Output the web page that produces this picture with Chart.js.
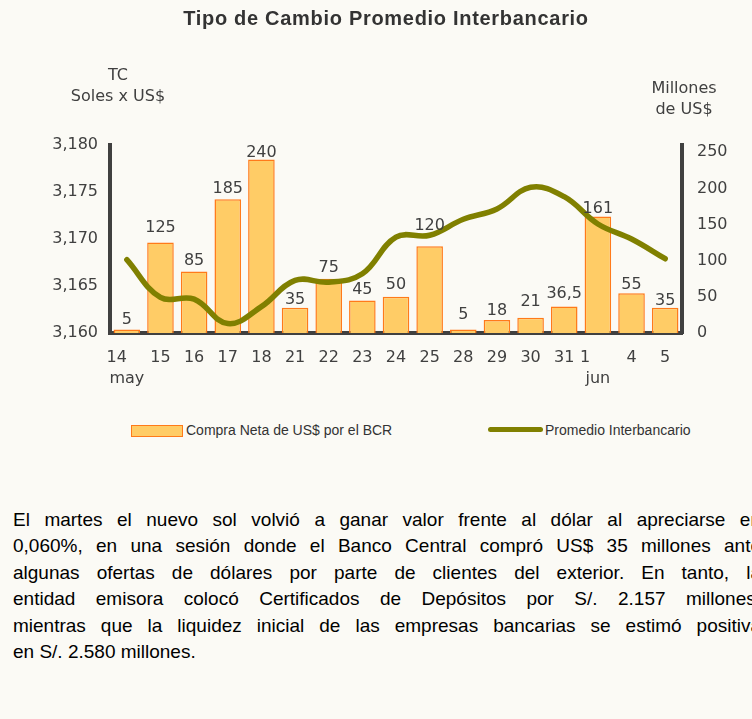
<!DOCTYPE html>
<html><head><meta charset="utf-8">
<script src="https://cdn.jsdelivr.net/npm/chart.js@4.4.1/dist/chart.umd.min.js"></script>
<style>
html,body{margin:0;padding:0;background:#fbfaf5;width:752px;height:719px;overflow:hidden;}
#wrap{position:relative;width:752px;height:719px;overflow:hidden;}
#title{position:absolute;left:0;width:772px;top:7px;text-align:center;font:bold 20px "Liberation Sans",Arial,sans-serif;letter-spacing:0.7px;color:#333;}
.axt{position:absolute;font:16px "DejaVu Sans",sans-serif;color:#404040;text-align:center;line-height:21px;}
#chartbox{position:absolute;left:0;top:0;width:752px;height:400px;}
.leg{position:absolute;font:14px "Liberation Sans",Arial,sans-serif;color:#333;white-space:nowrap;}
#p{position:absolute;left:13px;top:507px;width:748px;font:19px "Liberation Sans",Arial,sans-serif;line-height:26.4px;color:#000;margin:0;}
#p .l{text-align:justify;text-align-last:justify;white-space:normal;}
#p .last{text-align:left;}
</style></head>
<body><div id="wrap">
<div id="chartbox"><canvas id="c"></canvas></div>
<div id="title">Tipo de Cambio Promedio Interbancario</div>
<div class="axt" style="left:58px;width:120px;top:64px;">TC<br>Soles x US$</div>
<div class="axt" style="left:624px;width:120px;top:77px;">Millones<br>de US$</div>
<div style="position:absolute;left:131px;top:425px;width:50px;height:10px;background:#ffcc66;border:1px solid #ff7a1a;"></div>
<div class="leg" style="left:186px;top:422px;">Compra Neta de US$ por el BCR</div>
<div style="position:absolute;left:488px;top:427px;width:55px;height:5px;background:#808000;border-radius:3px;"></div>
<div class="leg" style="left:545px;top:422px;">Promedio Interbancario</div>
<div id="p">
<div class="l">El martes el nuevo sol volvió a ganar valor frente al dólar al apreciarse en</div>
<div class="l">0,060%, en una sesión donde el Banco Central compró US$ 35 millones ante</div>
<div class="l">algunas ofertas de dólares por parte de clientes del exterior. En tanto, la</div>
<div class="l">entidad emisora colocó Certificados de Depósitos por S/. 2.157 millones,</div>
<div class="l">mientras que la liquidez inicial de las empresas bancarias se estimó positiva</div>
<div class="last">en S/. 2.580 millones.</div>
</div>
</div>
<script>
const categories = ['14','15','16','17','18','21','22','23','24','25','28','29','30','31','1','4','5'];
const months = ['may','','','','','','','','','','','','','','jun','',''];
const compraNeta = [5,125,85,185,240,35,75,45,50,120,5,18,21,36.5,161,55,35];
const promedio = [3167.8,3163.8,3163.6,3161.0,3162.8,3165.6,3165.4,3166.3,3170.2,3170.4,3172.1,3173.2,3175.5,3174.5,3171.6,3170.0,3167.9];
const leftTicks = [3160,3165,3170,3175,3180];
const rightTicks = [0,50,100,150,200,250];

const FONT = {family:'"DejaVu Sans", sans-serif', size:16};
const AXC = '#404040';
const fmt = v => String(v).replace('.', ',');

const barLabels = {
  id:'barLabels',
  afterDatasetsDraw(chart, args, opts){
    const ctx = chart.ctx;
    const meta = chart.getDatasetMeta(1);
    const lifts = opts.lifts || [];
    ctx.save();
    ctx.font = '16px "DejaVu Sans", sans-serif';
    ctx.fillStyle = AXC;
    ctx.textAlign = 'center';
    ctx.textBaseline = 'alphabetic';
    meta.data.forEach((el,i)=>{ ctx.fillText(fmt(compraNeta[i]), el.x, el.y - (lifts[i] ?? 11) + 6.5); });
    ctx.restore();
  }
};

new Chart(document.getElementById('c'), {
  data:{
    labels: categories.map((c,i)=> months[i] ? [c, months[i]] : c),
    datasets:[
      {type:'line', label:'Promedio Interbancario', data:promedio, yAxisID:'y', borderColor:'#808000', borderWidth:5.5, pointRadius:0, tension:0.4, borderCapStyle:'round', borderJoinStyle:'round', order:0},
      {type:'bar', label:'Compra Neta de US$ por el BCR', data:compraNeta, yAxisID:'y1', backgroundColor:'#ffcc66', borderColor:'#ff7a1a', borderWidth:{top:1.5,left:1.5,right:1.5,bottom:0}, categoryPercentage:1, barPercentage:0.79, order:1}
    ]
  },
  options:{
    responsive:true, maintainAspectRatio:false, animation:false,
    layout:{padding:{top:145,left:0,right:0,bottom:0}},
    plugins:{legend:{display:false}, tooltip:{enabled:false}, title:{display:false},
      barLabels:{lifts:[12,17,13,13,9,10,13,13,14,23,17,11,18,15,10,11,9]}},
    scales:{
      x:{grid:{display:false}, border:{display:true,color:AXC,width:4},
         ticks:{font:{...FONT, lineHeight:1.33}, color:AXC, padding:6, maxRotation:0, autoSkip:false,
           callback:function(v,i){ const c=categories[i]; if(i===0) return [c+'    ', months[i]]; if(i===14) return [c+'     ', months[i]]; return c; }},
         afterFit(s){ s.height = 67; }},
      y:{position:'left', min:3160, max:3180, grid:{display:false}, border:{display:true,color:AXC,width:4},
         ticks:{font:FONT, color:AXC, padding:4, stepSize:5, callback:v=>v.toLocaleString('en-US')},
         afterBuildTicks(s){ s.ticks = leftTicks.map(v=>({value:v})); },
         afterFit(s){ s.width = 110; }},
      y1:{position:'right', min:0, max:260, grid:{display:false}, border:{display:true,color:AXC,width:4},
         ticks:{font:FONT, color:AXC, padding:7, stepSize:50},
         afterBuildTicks(s){ s.ticks = rightTicks.map(v=>({value:v})); },
         afterFit(s){ s.width = 70; }}
    }
  },
  plugins:[barLabels]
});
</script>
</body></html>
